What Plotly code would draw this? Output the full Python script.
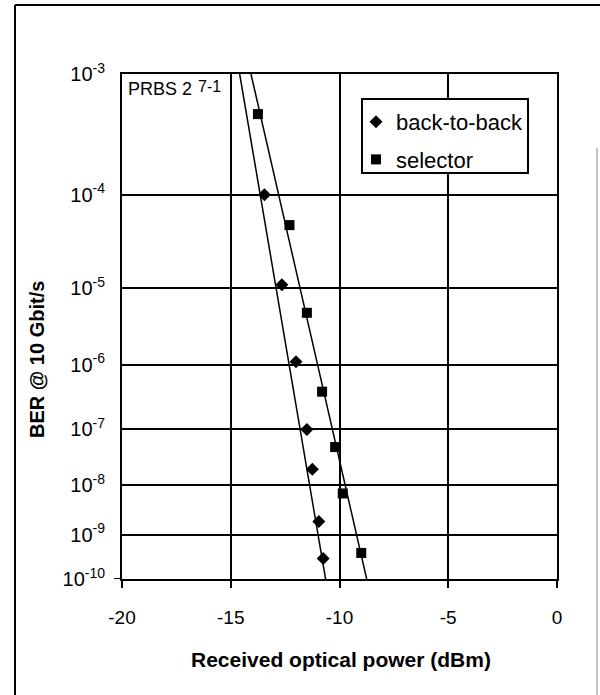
import numpy as np
import plotly.graph_objects as go

# ---- data ----
x_b2b = [-13.45, -12.65, -12.0, -11.5, -11.25, -10.95, -10.75]
ber_b2b = [1e-4, 1.1e-5, 1.1e-6, 1e-7, 2e-8, 1.9e-9, 3e-10]
x_sel = [-13.75, -12.3, -11.5, -10.8, -10.2, -9.85, -9.0]
ber_sel = [5e-4, 5e-5, 5e-6, 4e-7, 5e-8, 7e-9, 4e-10]
# fitted trend lines (end points)
fit_b2b_x = [-14.59, -10.64]
fit_sel_x = [-14.07, -8.75]
fit_ber = [1e-3, 1e-10]
# axis ticks
x_ticks = [-20, -15, -10, -5, 0]
x_ticklabels = ["-20", "-15", "-10", "-5", "0"]
y_exps = [3, 4, 5, 6, 7, 8, 9, 10]

# BER scale: position linear in log10(-log10(BER))
def ber_scale(v):
    return np.log10(-np.log10(np.asarray(v, dtype=float)))

FONT = "Liberation Sans, Arial, sans-serif"
W, H = 600, 695
L, R, T, B = 122, 43, 74, 116
PW, PH = W - L - R, H - T - B

def px(xp):
    return (xp - L) / PW

def py(yp):
    return (H - B - yp) / PH

fig = go.Figure()
fig.add_trace(go.Scatter(x=fit_b2b_x, y=ber_scale(fit_ber), mode="lines",
                         line=dict(color="black", width=1.5), showlegend=False,
                         hoverinfo="skip"))
fig.add_trace(go.Scatter(x=fit_sel_x, y=ber_scale(fit_ber), mode="lines",
                         line=dict(color="black", width=1.5), showlegend=False,
                         hoverinfo="skip"))
fig.add_trace(go.Scatter(x=x_b2b, y=ber_scale(ber_b2b), mode="markers",
                         name="back-to-back", legendgroup="a",
                         marker=dict(symbol="diamond", size=10, color="black")))
fig.add_trace(go.Scatter(x=x_sel, y=ber_scale(ber_sel), mode="markers",
                         name="selector", legendgroup="b",
                         marker=dict(symbol="square", size=10, color="black")))

yt = ber_scale([10.0 ** -e for e in y_exps])
fig.update_xaxes(range=[-20, 0], tickvals=x_ticks, ticktext=x_ticklabels,
                 ticks="outside", ticklen=7,
                 tickwidth=2, tickcolor="black", showgrid=True, gridcolor="black",
                 gridwidth=2, showline=True, linecolor="black", linewidth=2,
                 mirror=True, zeroline=False, ticklabelstandoff=13,
                 tickfont=dict(family=FONT, size=19, color="black"))
fig.update_yaxes(range=[1.0, float(ber_scale(1e-3))], tickvals=list(yt),
                 ticktext=[f"10<sup>-{e}</sup>" for e in y_exps], ticks="",
                 showgrid=True, gridcolor="black", gridwidth=2, showline=True,
                 linecolor="black", linewidth=2, mirror=True, zeroline=False,
                 ticklabelstandoff=11,
                 tickfont=dict(family=FONT, size=20, color="black"))

shapes = [
    # outer frame (left, top, right)
    dict(type="line", xref="paper", yref="paper", x0=px(15), x1=px(15), y0=py(5), y1=py(700),
         line=dict(color="black", width=2)),
    dict(type="line", xref="paper", yref="paper", x0=px(15), x1=px(601), y0=py(5), y1=py(5),
         line=dict(color="black", width=2)),
    dict(type="line", xref="paper", yref="paper", x0=px(597), x1=px(597), y0=py(148), y1=py(700),
         line=dict(color="#888888", width=1)),
    # small outside tick at 1e-10
    dict(type="line", xref="paper", yref="y", x0=px(114), x1=px(122), y0=1.0, y1=1.0,
         line=dict(color="black", width=2)),
    # legend box
    dict(type="rect", xref="paper", yref="paper", x0=px(362), x1=px(528), y0=py(173), y1=py(99),
         line=dict(color="black", width=2), fillcolor="white", layer="above"),
]

annotations = [
    dict(text="<b>Received optical power (dBm)</b>", xref="paper", yref="paper",
         x=px(341), y=py(659), xanchor="center", yanchor="middle", showarrow=False,
         font=dict(family=FONT, size=21, color="black")),
    dict(text="<b>BER @ 10 Gbit/s</b>", xref="paper", yref="paper", textangle=-90,
         x=px(37), y=py(360), xanchor="center", yanchor="middle", showarrow=False,
         font=dict(family=FONT, size=20, color="black")),
    dict(text="PRBS 2", xref="paper", yref="paper", x=px(126), y=py(89),
         xanchor="left", yanchor="middle", showarrow=False,
         font=dict(family=FONT, size=18, color="black")),
    dict(text="7-1", xref="paper", yref="paper", x=px(196), y=py(86),
         xanchor="left", yanchor="middle", showarrow=False,
         font=dict(family=FONT, size=16, color="black")),
]

fig.update_layout(
    width=W, height=H, margin=dict(l=L, r=R, t=T, b=B, autoexpand=False),
    paper_bgcolor="white", plot_bgcolor="white",
    shapes=shapes, annotations=annotations,
    legend=dict(x=px(356), y=py(101), xanchor="left", yanchor="top",
                bgcolor="rgba(0,0,0,0)", borderwidth=0, tracegroupgap=6,
                font=dict(family=FONT, size=22, color="black")),
    font=dict(family=FONT, color="black"),
)

fig.write_html("out.html")
